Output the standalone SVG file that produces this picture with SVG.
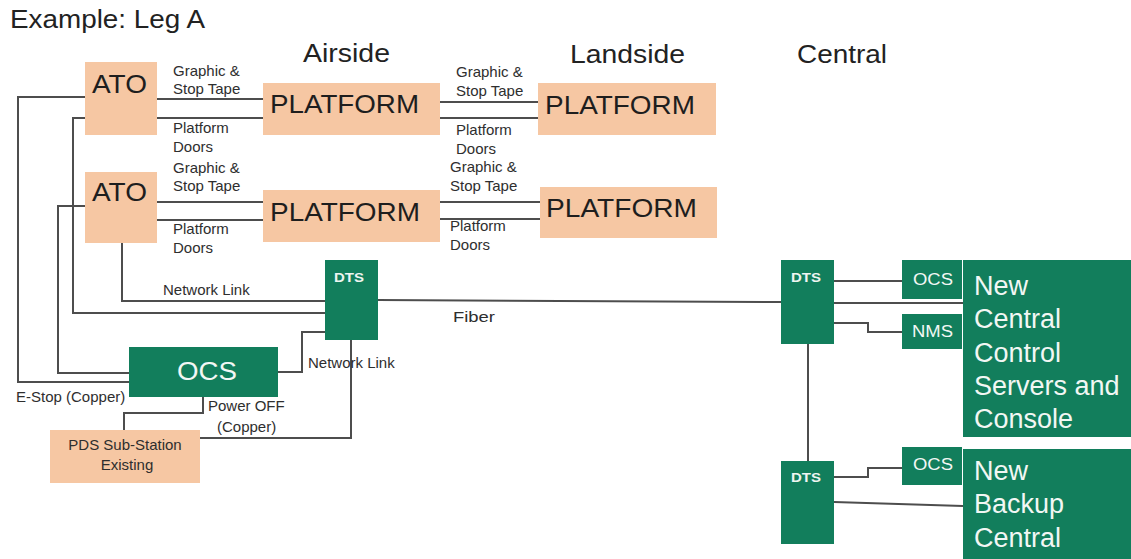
<svg xmlns="http://www.w3.org/2000/svg" width="1131" height="559" viewBox="0 0 1131 559">
  <style>
    .peach { fill: #F6C7A3; }
    .green { fill: #127E5C; }
    .wire { fill: none; stroke: #4d4d4d; stroke-width: 2; }
    text { font-family: "Liberation Sans", Arial, sans-serif; }
    .head { font-size: 25px; fill: #222; }
    .big { font-size: 26px; fill: #1e1e1e; }
    .lbl { font-size: 15px; fill: #2e2e2e; }
    .dts { font-size: 12px; font-weight: bold; fill: #eef5f1; }
    .wt { fill: #f2f7f4; }
  </style>

  <rect width="1131" height="559" fill="#ffffff"/>

  <!-- headings -->
  <g id="headings">
    <text class="head" x="10" y="28" font-size="22" textLength="195" lengthAdjust="spacingAndGlyphs">Example: Leg A</text>
    <text class="head" x="303" y="62" textLength="87" lengthAdjust="spacingAndGlyphs">Airside</text>
    <text class="head" x="570" y="63" textLength="115" lengthAdjust="spacingAndGlyphs">Landside</text>
    <text class="head" x="797" y="63" textLength="90" lengthAdjust="spacingAndGlyphs">Central</text>
  </g>

  <!-- connectors -->
  <g id="connectors">
    <!-- ATO 1 to airside platform 1 -->
    <line class="wire" x1="157" y1="99" x2="263" y2="99"/>
    <line class="wire" x1="157" y1="118" x2="263" y2="118"/>
    <!-- airside platform 1 to landside platform 1 -->
    <line class="wire" x1="440" y1="102" x2="538" y2="102"/>
    <line class="wire" x1="440" y1="118" x2="538" y2="118"/>
    <!-- ATO 2 to airside platform 2 -->
    <line class="wire" x1="157" y1="202" x2="263" y2="202"/>
    <line class="wire" x1="157" y1="220" x2="263" y2="220"/>
    <!-- airside platform 2 to landside platform 2 -->
    <line class="wire" x1="440" y1="202" x2="540" y2="202"/>
    <line class="wire" x1="440" y1="219" x2="540" y2="219"/>

    <!-- E-Stop from ATO 1 to OCS -->
    <polyline class="wire" points="85,97 18,97 18,382 130,382"/>
    <!-- ATO 1 to local DTS -->
    <polyline class="wire" points="85,118 73,118 73,313 325,313"/>
    <!-- ATO 2 to OCS -->
    <polyline class="wire" points="85,206 58,206 58,373 129,373"/>
    <!-- ATO 2 network link to DTS -->
    <polyline class="wire" points="122,243 122,301 325,301"/>
    <!-- DTS to OCS network link -->
    <polyline class="wire" points="325,332 302,332 302,372 278,372"/>
    <!-- OCS power off to PDS -->
    <polyline class="wire" points="203,397 203,413 124,413 124,430"/>
    <!-- PDS to DTS -->
    <polyline class="wire" points="200,438 351,438 351,340"/>
    <!-- fiber between DTS units -->
    <line class="wire" x1="378" y1="300" x2="781" y2="302"/>

    <!-- central DTS links -->
    <line class="wire" x1="834" y1="281" x2="902" y2="281"/>
    <line class="wire" x1="834" y1="303" x2="963" y2="303"/>
    <polyline class="wire" points="834,323 868,323 868,332 902,332"/>
    <line class="wire" x1="808" y1="344" x2="808" y2="461"/>
    <polyline class="wire" points="834,477 868,477 868,468 902,468"/>
    <line class="wire" x1="834" y1="502" x2="963" y2="506"/>

    <!-- connector labels -->
    <text class="lbl" x="173" y="76">Graphic &amp;</text>
    <text class="lbl" x="173" y="94">Stop Tape</text>
    <text class="lbl" x="173" y="133">Platform</text>
    <text class="lbl" x="173" y="152">Doors</text>
    <text class="lbl" x="173" y="173">Graphic &amp;</text>
    <text class="lbl" x="173" y="191">Stop Tape</text>
    <text class="lbl" x="173" y="234">Platform</text>
    <text class="lbl" x="173" y="253">Doors</text>

    <text class="lbl" x="456" y="77">Graphic &amp;</text>
    <text class="lbl" x="456" y="96">Stop Tape</text>
    <text class="lbl" x="456" y="135">Platform</text>
    <text class="lbl" x="456" y="154">Doors</text>
    <text class="lbl" x="450" y="172">Graphic &amp;</text>
    <text class="lbl" x="450" y="191">Stop Tape</text>
    <text class="lbl" x="450" y="231">Platform</text>
    <text class="lbl" x="450" y="250">Doors</text>

    <text class="lbl" x="163" y="295">Network Link</text>
    <text class="lbl" x="308" y="368">Network Link</text>
    <text class="lbl" x="16" y="402">E-Stop (Copper)</text>
    <text class="lbl" x="208" y="411">Power OFF</text>
    <text class="lbl" x="217" y="432">(Copper)</text>
    <text class="lbl" x="453" y="322" font-size="17" textLength="42" lengthAdjust="spacingAndGlyphs">Fiber</text>
  </g>

  <!-- airside / landside equipment -->
  <g id="ato-1">
    <rect class="peach" x="85" y="62" width="72" height="73"/>
    <text class="big" x="92" y="93" textLength="55" lengthAdjust="spacingAndGlyphs">ATO</text>
  </g>
  <g id="ato-2">
    <rect class="peach" x="85" y="172" width="72" height="71"/>
    <text class="big" x="92" y="201" textLength="55" lengthAdjust="spacingAndGlyphs">ATO</text>
  </g>
  <g id="airside-platform-1">
    <rect class="peach" x="263" y="83" width="177" height="52"/>
    <text class="big" x="270" y="113" textLength="149" lengthAdjust="spacingAndGlyphs">PLATFORM</text>
  </g>
  <g id="airside-platform-2">
    <rect class="peach" x="263" y="190" width="177" height="52"/>
    <text class="big" x="270" y="221" textLength="150" lengthAdjust="spacingAndGlyphs">PLATFORM</text>
  </g>
  <g id="landside-platform-1">
    <rect class="peach" x="538" y="83" width="178" height="52"/>
    <text class="big" x="545" y="114" textLength="150" lengthAdjust="spacingAndGlyphs">PLATFORM</text>
  </g>
  <g id="landside-platform-2">
    <rect class="peach" x="540" y="187" width="177" height="51"/>
    <text class="big" x="546" y="217" textLength="151" lengthAdjust="spacingAndGlyphs">PLATFORM</text>
  </g>

  <!-- local equipment -->
  <g id="dts-local">
    <rect class="green" x="325" y="260" width="53" height="80"/>
    <text class="dts" x="334" y="282" textLength="30" lengthAdjust="spacingAndGlyphs">DTS</text>
  </g>
  <g id="ocs-local">
    <rect class="green" x="129" y="347" width="149" height="50"/>
    <text class="wt" x="177" y="380" font-size="26" textLength="60" lengthAdjust="spacingAndGlyphs">OCS</text>
  </g>
  <g id="pds-substation">
    <rect class="peach" x="50" y="430" width="150" height="53"/>
    <text class="lbl" x="125" y="450" text-anchor="middle">PDS Sub-Station</text>
    <text class="lbl" x="127" y="470" text-anchor="middle">Existing</text>
  </g>

  <!-- central equipment -->
  <g id="dts-central">
    <rect class="green" x="781" y="260" width="53" height="84"/>
    <text class="dts" x="791" y="282" textLength="30" lengthAdjust="spacingAndGlyphs">DTS</text>
  </g>
  <g id="ocs-central">
    <rect class="green" x="902" y="260" width="60" height="39"/>
    <text class="wt" x="913" y="285" font-size="16" textLength="40" lengthAdjust="spacingAndGlyphs">OCS</text>
  </g>
  <g id="nms-central">
    <rect class="green" x="902" y="314" width="60" height="35"/>
    <text class="wt" x="912" y="337" font-size="16" textLength="41" lengthAdjust="spacingAndGlyphs">NMS</text>
  </g>
  <g id="central-servers">
    <rect class="green" x="963" y="260" width="168" height="177"/>
    <text class="wt" font-size="27">
      <tspan x="974" y="295">New</tspan>
      <tspan x="974" y="328">Central</tspan>
      <tspan x="974" y="362">Control</tspan>
      <tspan x="974" y="395">Servers and</tspan>
      <tspan x="974" y="428">Console</tspan>
    </text>
  </g>
  <g id="dts-backup">
    <rect class="green" x="781" y="461" width="53" height="83"/>
    <text class="dts" x="791" y="482" textLength="30" lengthAdjust="spacingAndGlyphs">DTS</text>
  </g>
  <g id="ocs-backup">
    <rect class="green" x="902" y="447" width="60" height="38"/>
    <text class="wt" x="913" y="470" font-size="16" textLength="40" lengthAdjust="spacingAndGlyphs">OCS</text>
  </g>
  <g id="backup-central">
    <rect class="green" x="963" y="449" width="168" height="110"/>
    <text class="wt" font-size="27">
      <tspan x="974" y="480">New</tspan>
      <tspan x="974" y="513">Backup</tspan>
      <tspan x="974" y="547">Central</tspan>
    </text>
  </g>
</svg>
